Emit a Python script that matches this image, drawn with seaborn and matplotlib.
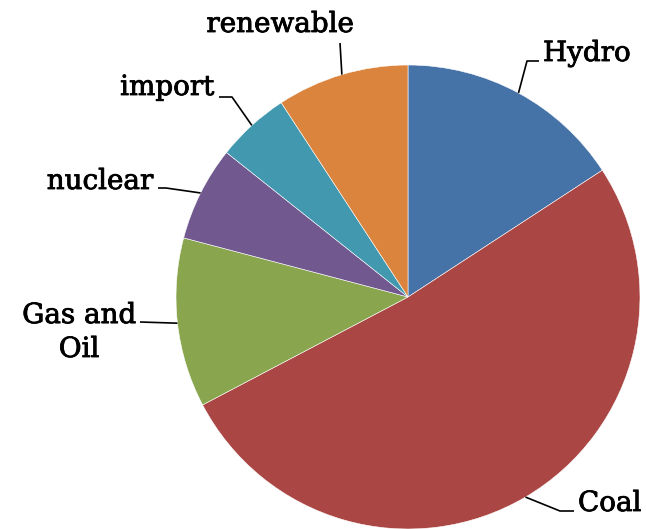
import numpy as np
import matplotlib
matplotlib.use("Agg")
import matplotlib.pyplot as plt
import matplotlib.patheffects as pe
import seaborn as sns

# Electricity generation mix (percent of total)
categories = ["Hydro", "Coal", "Gas and Oil", "nuclear", "import", "renewable"]
shares = [15.8, 51.5, 11.8, 6.6, 5.1, 9.2]
label_text = ["Hydro", "Coal", "Gas and\nOil", "nuclear", "import", "renewable"]
slice_colors = ["#4572A7", "#AA4643", "#89A54E", "#71588F", "#4198AF", "#DB843D"]

sns.set_theme(style="white")
plt.rcParams["font.family"] = ["DejaVu Serif", "DejaVu Sans"]

W, H, DPI = 646, 529, 100
fig = plt.figure(figsize=(W / DPI, H / DPI), dpi=DPI)
ax = fig.add_axes([0, 0, 1, 1])

# pie geometry in pixels: centre and radius
CX, CY, R = 408, 297, 232


def px(x, y):
    """Pixel position (origin top-left) -> data units of a unit-radius pie."""
    return (x - CX) / R, (CY - y) / R


wedges, _ = ax.pie(shares, colors=slice_colors, startangle=90, counterclock=False,
                   radius=1.0, center=(0, 0),
                   wedgeprops=dict(edgecolor="white", linewidth=0.4))

ax.set_xlim(-CX / R, (W - CX) / R)
ax.set_ylim(-(H - CY) / R, CY / R)
ax.set_aspect("equal")
ax.axis("off")

# label layout: text anchor (last-line baseline), alignment, leader elbow and end (pixels)
layout = {
    "Hydro":       dict(text=(543, 61), ha="left", elbow=(527, 61), end=(539, 61)),
    "Coal":        dict(text=(578, 511), ha="left", elbow=(560, 511), end=(574, 511)),
    "Gas and Oil": dict(text=(79, 357), ha="center", elbow=(140, 322), end=(140, 322)),
    "nuclear":     dict(text=(153, 189), ha="right", elbow=(166, 188), end=(158, 188)),
    "import":      dict(text=(214, 95), ha="right", elbow=(232, 97), end=(219, 97)),
    "renewable":   dict(text=(280, 32), ha="center", elbow=(340, 43), end=(340, 43)),
}

text_effect = [pe.withStroke(linewidth=0.6, foreground="black")]

for w, cat, txt in zip(wedges, categories, label_text):
    mid = np.deg2rad((w.theta1 + w.theta2) / 2)
    ax_, ay_ = np.cos(mid), np.sin(mid)
    spec = layout[cat]
    ex, ey = px(*spec["elbow"])
    fx, fy = px(*spec["end"])
    ax.plot([ax_, ex, fx], [ay_, ey, fy], color="black", lw=1.2,
            solid_capstyle="butt", zorder=3)
    tx, ty = px(*spec["text"])
    ax.text(tx, ty, txt, ha=spec["ha"], va="baseline", fontsize=20,
            multialignment="center", linespacing=1.33, color="black",
            path_effects=text_effect)

fig.savefig("out.png", dpi=DPI, facecolor="white")
